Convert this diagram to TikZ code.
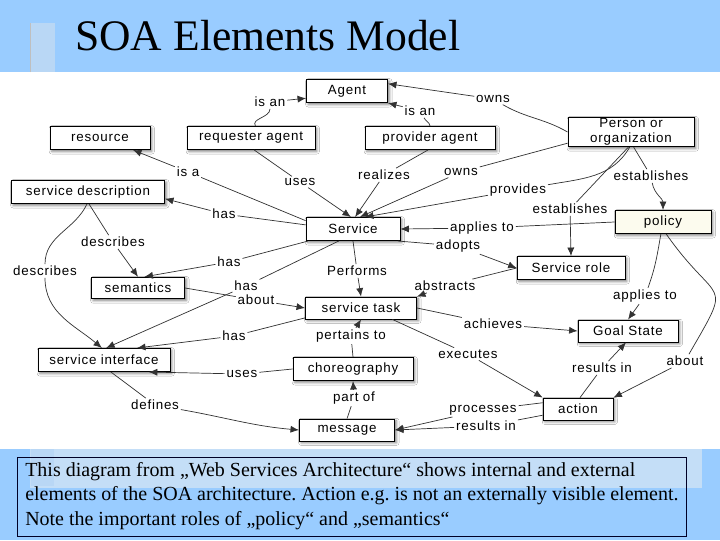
\documentclass[tikz,border=0pt]{standalone}
\usepackage{fontspec}
\setmainfont{Liberation Serif}
\newfontfamily\diagfont[LetterSpace=6]{Liberation Sans}
\usepackage{xcolor}
\usepackage{tikz}
\usetikzlibrary{arrows.meta, shadows.blur}
\definecolor{bandblue}{RGB}{153,204,255}
\definecolor{paleblue}{RGB}{196,222,247}
\definecolor{barblue}{RGB}{185,215,245}
\definecolor{linkgray}{RGB}{50,50,50}
\definecolor{policycream}{RGB}{252,251,238}

\begin{document}
\frenchspacing
\begin{tikzpicture}[x=0.025cm, y=-0.025cm,
    box/.style={draw=black, fill=white, line width=0.6pt, minimum height=0.58cm, inner sep=1pt,
        font=\diagfont\fontsize{9.5}{10.5}\selectfont,
        blur shadow={shadow xshift=1.3pt, shadow yshift=-1.3pt, shadow blur steps=4, shadow opacity=50}},
    lbl/.style={inner sep=1.2pt, font=\diagfont\fontsize{9.5}{10.5}\selectfont},
    link/.style={draw=linkgray, line width=0.5pt},
    arr/.style={link, -{Latex[length=6pt, width=5pt]}},
    ]
\useasboundingbox (0,0) rectangle (720,540);
% header and footer bands
\fill[white] (0,0) rectangle (720,540);
\fill[bandblue] (0,0) rectangle (720,72);
\fill[barblue] (30,23) rectangle (55,72);
\draw[gray!50] (30,72) -- (30,23);
\node[anchor=base west, inner sep=0pt, font=\fontsize{31}{36}\selectfont] (title) at (75,50) {SOA Elements Model};

\fill[bandblue] (0,449) rectangle (720,540);
\fill[paleblue] (30,449) rectangle (702,488);
\fill[barblue] (31,449) rectangle (54,486);
\draw[black!85!blue, line width=0.6pt] (17,457) rectangle (686,536);
\node[anchor=north west, align=left, inner sep=0pt, font=\fontsize{14.2}{17.4}\selectfont] (caption) at (25,462)
    {This diagram from „Web Services Architecture“ shows internal and external\\
     elements of the SOA architecture. Action e.g. is not an externally visible element.\\
     Note the important roles of „policy“ and „semantics“};

% element boxes
\node[box, minimum width=2.03cm] (agent) at (347,91) {Agent};
\node[box, minimum width=2.5cm] (resource) at (100,138) {resource};
\node[box, minimum width=3.2cm] (reqagent) at (251,138) {requester agent};
\node[box, minimum width=3.25cm] (provagent) at (430,138) {provider agent};
\node[box, minimum width=3.15cm, minimum height=0.7cm, align=center] (person) at (631,132) {Person or\\organization};
\node[box, minimum width=3.83cm] (servdesc) at (88,192) {service description};
\node[box, minimum width=2.35cm] (service) at (353,229) {Service};
\node[box, minimum width=2.4cm, fill=policycream] (policy) at (663,222) {policy};
\node[box, minimum width=2.33cm, minimum height=0.54cm] (semantics) at (138,288) {semantics};
\node[box, minimum width=2.7cm] (servrole) at (571,268) {Service role};
\node[box, minimum width=2.78cm, minimum height=0.55cm] (servtask) at (361,308) {service task};
\node[box, minimum width=2.5cm, minimum height=0.55cm] (goal) at (628,331) {Goal State};
\node[box, minimum width=3.3cm] (servint) at (104,360) {service interface};
\node[box, minimum width=3.0cm] (chor) at (353,369) {choreography};
\node[box, minimum width=1.75cm, minimum height=0.55cm] (action) at (578,409) {action};
\node[box, minimum width=2.38cm, minimum height=0.55cm] (message) at (347,430) {message};

% relation labels
\node[lbl] (isanA) at (270,102) {is an};
\node[lbl] (isanB) at (420,111) {is an};
\node[lbl] (ownsA) at (493,99) {owns};
\node[lbl] (isa) at (188,172) {is a};
\node[lbl] (usesA) at (300,182) {uses};
\node[lbl] (realizes) at (384,175) {realizes};
\node[lbl] (ownsB) at (461,172) {owns};
\node[lbl] (provides) at (518,190) {provides};
\node[lbl] (estabA) at (651,176) {establishes};
\node[lbl] (estabB) at (570,209) {establishes};
\node[lbl] (hasA) at (224,214) {has};
\node[lbl] (appliesA) at (482,228) {applies to};
\node[lbl] (adopts) at (458,246) {adopts};
\node[lbl] (describesA) at (113,242) {describes};
\node[lbl] (describesB) at (45,271) {describes};
\node[lbl] (hasB) at (229,262) {has};
\node[lbl] (performs) at (357,271) {Performs};
\node[lbl] (hasC) at (246,286) {has};
\node[lbl] (aboutA) at (256,300) {about};
\node[lbl] (abstracts) at (445,286) {abstracts};
\node[lbl] (appliesB) at (645,296) {applies to};
\node[lbl] (achieves) at (493,324) {achieves};
\node[lbl] (hasD) at (234,336) {has};
\node[lbl] (pertains) at (351,336) {pertains to};
\node[lbl] (executes) at (468,354) {executes};
\node[lbl] (aboutB) at (685,361) {about};
\node[lbl] (resultsA) at (602,368) {results in};
\node[lbl] (usesB) at (242,374) {uses};
\node[lbl] (partof) at (354,398) {part of};
\node[lbl] (defines) at (155,405) {defines};
\node[lbl] (processes) at (483,410) {processes};
\node[lbl] (resultsB) at (486,426) {results in};

% agents and owners
\draw[link] (reqagent.70) to[out=120,in=-90] (isanA);
\draw[arr] (isanA) -- (agent.190);
\draw[link] (provagent.north) to[out=100,in=-60] (isanB);
\draw[arr] (isanB) -- (agent.south east);
\draw[link] (person.west) to[out=150,in=-30] (ownsA);
\draw[arr] (ownsA) -- (agent.10);
\draw[link] (reqagent.-75) -- (usesA);
\draw[arr] (usesA) -- (service.100);
\draw[link] (provagent.-100) -- (realizes);
\draw[arr] (realizes) -- (service.80);
\draw[link] (person.190) -- (ownsB);
\draw[arr] (ownsB) -- (service.60);
\draw[link] (person.-95) to[out=-120,in=10] (provides);
\draw[arr] (provides) -- (service.45);
\draw[link] (person.-100) -- (estabB);
\draw[arr] (estabB) -- (servrole.north);
\draw[link] (person.-80) -- (estabA);
\draw[arr] (estabA) to[out=-80,in=90] (policy.north);

% service surroundings
\draw[link] (service.170) -- (isa);
\draw[arr] (isa) -- (resource.-20);
\draw[link] (service.175) -- (hasA);
\draw[arr] (hasA) -- (servdesc.-5);
\draw[link] (policy.west) -- (appliesA);
\draw[arr] (appliesA) -- (service.east);
\draw[link] (service.-15) -- (adopts);
\draw[arr] (adopts) -- (servrole.west);
\draw[link] (service.-165) -- (hasB);
\draw[arr] (hasB) -- (semantics.60);
\draw[link] (servdesc.-85) -- (describesA);
\draw[arr] (describesA) -- (semantics.north);
\draw[link] (servdesc.-95) to[out=-115,in=90] (describesB);
\draw[arr] (describesB) to[out=-90,in=140] (servint.100);
\draw[link] (service.-140) -- (hasC);
\draw[arr] (hasC) -- (servint.80);
\draw[link] (semantics.east) -- (aboutA);
\draw[arr] (aboutA) -- (servtask.west);
\draw[link] (service.south) -- (performs);
\draw[arr] (performs) -- (servtask.north);
\draw[link] (servrole.west) -- (abstracts);
\draw[arr] (abstracts) -- (servtask.north east);

% task, interface and message
\draw[link] (servtask.-170) -- (hasD);
\draw[arr] (hasD) -- (servint.20);
\draw[link] (chor.north) -- (pertains);
\draw[arr] (pertains) -- (servtask.south);
\draw[link] (chor.west) -- (usesB);
\draw[arr] (usesB) -- (servint.-15);
\draw[link] (message.north) -- (partof);
\draw[arr] (partof) -- (chor.south);
\draw[link] (servint.-60) -- (defines);
\draw[arr] (defines) to[out=-10,in=175] (message.west);

% policy, goal and action
\draw[link] (policy.-100) to[out=-100,in=70] (appliesB);
\draw[arr] (appliesB) -- (goal.north);
\draw[link] (policy.-75) to[out=-55,in=60,looseness=1.9] (aboutB);
\draw[arr] (aboutB) -- (action.north east);
\draw[link] (servtask.east) -- (achieves);
\draw[arr] (achieves) -- (goal.west);
\draw[link] (servtask.-20) -- (executes);
\draw[arr] (executes) -- (action.north west);
\draw[link] (action.80) -- (resultsA);
\draw[arr] (resultsA) -- (goal.-100);
\draw[link] (action.170) -- (processes);
\draw[arr] (processes) -- (message.east);
\draw[link] (action.-170) -- (resultsB);
\draw[arr] (resultsB) -- (message.east);
\end{tikzpicture}
\end{document}
